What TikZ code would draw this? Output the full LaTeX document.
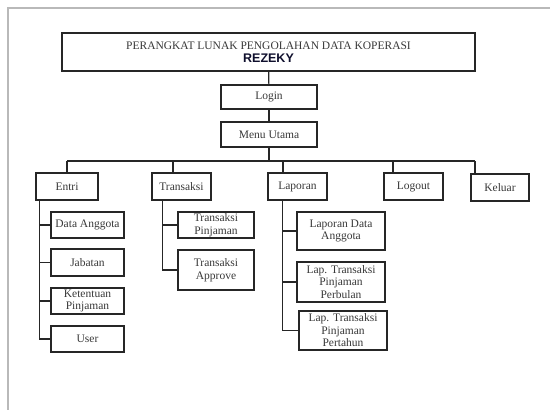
\documentclass[tikz,border=0pt]{standalone}
\usepackage{fontspec}
\setmainfont{Liberation Serif}
\newfontfamily\titlesans{Liberation Sans}
\usepackage{tikz}
\usetikzlibrary{calc}
\definecolor{rezekyblue}{RGB}{15,15,45}

\begin{document}
\begin{tikzpicture}[x=1pt,y=-1pt,
    menubox/.style={draw=black!85, line width=1.2pt, rectangle, inner sep=1pt,
        align=center, text=black!78, font=\fontsize{11.5}{12.5}\selectfont},
    link/.style={draw=black!85, line width=1.2pt}]
    \useasboundingbox (0,0) rectangle (550,410);
    % bingkai luar
    \draw[gray!55, line width=2pt] (8,410) -- (8,8) -- (550,8);

    % judul dan menu atas
    \node[menubox, minimum width=413, minimum height=38] (judul) at (268.5,52)
        {PERANGKAT LUNAK PENGOLAHAN DATA KOPERASI\\[0pt]
         {\titlesans\bfseries\fontsize{12.5}{13}\selectfont\color{rezekyblue}REZEKY}};
    \node[menubox, minimum width=96, minimum height=24] (login) at (269,97) {Login};
    \node[menubox, minimum width=96, minimum height=25] (utama) at (269,134.5) {Menu Utama};

    % menu level satu
    \node[menubox, minimum width=62, minimum height=27] (entri) at (67,186.5) {Entri};
    \node[menubox, minimum width=59, minimum height=27] (transaksi) at (181.5,186.5) {Transaksi};
    \node[menubox, minimum width=59, minimum height=27] (laporan) at (297.5,186.5) {Laporan};
    \node[menubox, minimum width=59, minimum height=27] (logout) at (413.5,186.5) {Logout};
    \node[menubox, minimum width=58, minimum height=27] (keluar) at (500,187.5) {Keluar};

    % sub menu entri
    \node[menubox, minimum width=73, minimum height=26] (anggota) at (87.5,225) {Data Anggota};
    \node[menubox, minimum width=73, minimum height=27] (jabatan) at (87.5,262.5) {Jabatan};
    \node[menubox, minimum width=73, minimum height=26] (ketentuan) at (87.5,301) {Ketentuan\\Pinjaman};
    \node[menubox, minimum width=73, minimum height=26] (user) at (87.5,339) {User};

    % sub menu transaksi
    \node[menubox, minimum width=76, minimum height=26] (pinjaman) at (216,225) {Transaksi\\Pinjaman};
    \node[menubox, minimum width=76, minimum height=40] (approve) at (216,270) {Transaksi\\Approve};

    % sub menu laporan
    \node[menubox, minimum width=88, minimum height=38] (lapanggota) at (341,231) {Laporan Data\\Anggota};
    \node[menubox, minimum width=88, minimum height=40] (lapbulan) at (341,282) {Lap. Transaksi\\Pinjaman\\Perbulan};
    \node[menubox, minimum width=88, minimum height=39] (laptahun) at (343,330.5) {Lap. Transaksi\\Pinjaman\\Pertahun};

    % garis penghubung
    \draw[link] (judul) -- (login);
    \draw[link] (login) -- (utama);
    \coordinate (bus) at ($(utama.south)+(0,14)$);
    \coordinate (b1) at (67,161);
    \coordinate (b2) at (173,161);
    \coordinate (b3) at (283,161);
    \coordinate (b4) at (393,161);
    \coordinate (b5) at (475,161);
    \draw[link] (utama) -- (bus);
    \draw[link] (b1) -- (b5);
    \draw[link] (b1) -- (b1 |- entri.north);
    \draw[link] (b2) -- (b2 |- transaksi.north);
    \draw[link] (b3) -- (b3 |- laporan.north);
    \draw[link] (b4) -- (b4 |- logout.north);
    \draw[link] (b5) -- (b5 |- keluar.north);

    \draw[link] ([xshift=4]entri.south west) |- (anggota.west);
    \draw[link] ([xshift=4]entri.south west) |- (jabatan.west);
    \draw[link] ([xshift=4]entri.south west) |- (ketentuan.west);
    \draw[link] ([xshift=4]entri.south west) |- (user.west);

    \draw[link] ([xshift=11]transaksi.south west) |- (pinjaman.west);
    \draw[link] ([xshift=11]transaksi.south west) |- (approve.west);

    \draw[link] ([xshift=15]laporan.south west) |- (lapanggota.west);
    \draw[link] ([xshift=15]laporan.south west) |- (lapbulan.west);
    \draw[link] ([xshift=15]laporan.south west) |- (laptahun.west);
\end{tikzpicture}
\end{document}
